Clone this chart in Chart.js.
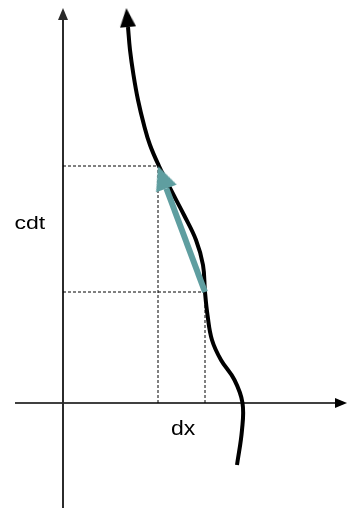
<!DOCTYPE html>
<html>
<head>
<meta charset="utf-8">
<script src="https://cdn.jsdelivr.net/npm/chart.js@4/dist/chart.umd.min.js"></script>
<style>
  html, body { margin: 0; padding: 0; background: #fff; }
  canvas { display: block; }
</style>
</head>
<body>
<canvas id="diagram" width="358" height="508"></canvas>
<script>
// worldline (x, ct), listed from the top of the picture down
const worldX = [6.5, 6.7, 7.05, 7.5, 8.1, 8.7, 9.6, 10.8, 12.1, 13.3, 14.0, 14.2, 14.45, 14.9, 15.8, 17.15, 17.95, 17.9, 17.4];
const worldT = [37.6, 35.3, 32.8, 30.3, 27.8, 25.8, 23.7, 21.3, 18.8, 16.3, 13.8, 11.1, 8.8, 6.3, 4.3, 2.3, 0, -2.7, -6.2];

// the two events joined by the teal arrow
const eventX = [14.2, 9.5];
const eventT = [11.1, 23.7];

// axes extent
const xAxisRange = [-4.8, 27.2];
const tAxisRange = [-10.5, 38.3];

const labels = ['cdt', 'dx'];

const worldline = worldX.map((x, i) => ({ x, y: worldT[i] }));

// arrowhead drawn in a little canvas, tip pointing up, base at centre
const arrowHead = (w, h, color) => {
  const c = document.createElement('canvas');
  c.width = w;
  c.height = h * 2;
  const g = c.getContext('2d');
  g.fillStyle = color;
  g.beginPath();
  g.moveTo(w / 2, 0);
  g.lineTo(w, h);
  g.lineTo(0, h);
  g.closePath();
  g.fill();
  return c;
};

const teal = '#5f9ea0';

// shaft of the teal arrow stops where its head begins
const headLen = 2.4;
const dx = eventX[0] - eventX[1], dt = eventT[0] - eventT[1];
const len = Math.hypot(dx, dt);
const shaftEnd = { x: eventX[1] + dx * headLen / len, y: eventT[1] + dt * headLen / len };
const tealAngle = Math.atan2(-dx, -dt) * 180 / Math.PI;

const dashed = (pts) => ({
  data: pts,
  showLine: true,
  borderColor: '#000',
  borderWidth: 1,
  borderDash: [3, 2],
  pointRadius: 0,
  tension: 0
});

const labelPlugin = {
  id: 'labels',
  afterDatasetsDraw(chart) {
    const { ctx, scales } = chart;
    const put = (text, x, y, size, sx) => {
      ctx.save();
      ctx.font = size + 'px "Liberation Sans", Arial, sans-serif';
      ctx.fillStyle = '#000';
      ctx.textBaseline = 'alphabetic';
      ctx.translate(scales.x.getPixelForValue(x), scales.y.getPixelForValue(y));
      ctx.scale(sx, 1);
      ctx.fillText(text, 0, 0);
      ctx.restore();
    };
    put(labels[0], -4.85, 17.45, 18, 1.28);
    put(labels[1], 10.8, -3.15, 20, 1.15);
  }
};

// datasets earlier in the list are painted on top
new Chart(document.getElementById('diagram'), {
  type: 'scatter',
  data: {
    datasets: [
      // arrowheads
      {
        data: [
          { x: 0, y: tAxisRange[1] },
          { x: xAxisRange[1], y: 0 },
          { x: worldX[0], y: worldT[0] },
          shaftEnd
        ],
        showLine: false,
        pointStyle: [
          arrowHead(10, 12, '#2b2b2b'),
          arrowHead(10, 12, '#000'),
          arrowHead(16, 19, '#000'),
          arrowHead(22, 24, teal)
        ],
        rotation: [0, 90, -5, tealAngle],
        pointRadius: 5
      },
      // teal displacement arrow
      {
        data: [{ x: eventX[0], y: eventT[0] }, shaftEnd],
        showLine: true, borderColor: teal, borderWidth: 6, pointRadius: 0
      },
      // worldline
      {
        data: worldline,
        showLine: true, borderColor: '#000', borderWidth: 4,
        pointRadius: 0, tension: 0.4, borderCapStyle: 'butt'
      },
      // projections of the events
      dashed([{ x: 0, y: eventT[1] }, { x: eventX[1], y: eventT[1] }]),
      dashed([{ x: 0, y: eventT[0] }, { x: eventX[0], y: eventT[0] }]),
      dashed([{ x: eventX[1], y: 0 }, { x: eventX[1], y: eventT[1] }]),
      dashed([{ x: eventX[0], y: 0 }, { x: eventX[0], y: eventT[0] }]),
      // axes
      {
        data: [{ x: 0, y: tAxisRange[0] }, { x: 0, y: tAxisRange[1] }],
        showLine: true, borderColor: '#2b2b2b', borderWidth: 2, pointRadius: 0
      },
      {
        data: [{ x: xAxisRange[0], y: 0 }, { x: xAxisRange[1], y: 0 }],
        showLine: true, borderColor: '#000', borderWidth: 1.5, pointRadius: 0
      }
    ]
  },
  options: {
    responsive: false,
    animation: false,
    layout: { padding: 0, autoPadding: false },
    plugins: {
      legend: { display: false },
      tooltip: { enabled: false }
    },
    scales: {
      x: { type: 'linear', min: -6.3, max: 29.5, display: false },
      y: { type: 'linear', min: -10.5, max: 40.3, display: false }
    }
  },
  plugins: [labelPlugin]
});
</script>
</body>
</html>
